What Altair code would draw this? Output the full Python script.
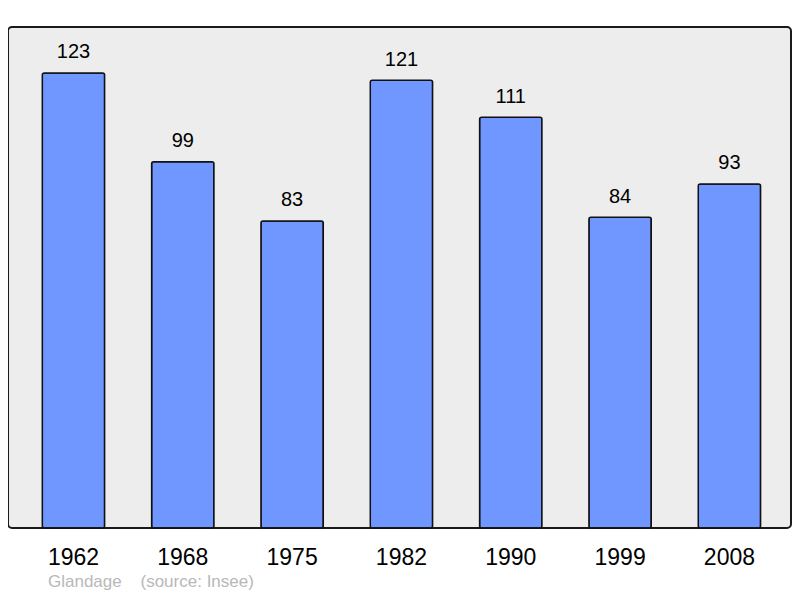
import altair as alt
import pandas as pd

years = ["1962", "1968", "1975", "1982", "1990", "1999", "2008"]
population = [123, 99, 83, 121, 111, 84, 93]
commune = "Glandage"
source = "(source: Insee)"

df = pd.DataFrame({"year": years, "pop": population})

FONT = "Liberation Sans"

x = alt.X(
    "year:N",
    sort=years,
    title=None,
    scale=alt.Scale(paddingInner=0.43, paddingOuter=0.296, align=0.53),
    axis=alt.Axis(
        ticks=False,
        tickSize=0,
        domain=False,
        grid=False,
        labelAngle=0,
        labelFont=FONT,
        labelFontSize=23,
        labelColor="#000000",
        labelBaseline="alphabetic",
        labelPadding=36,
    ),
)
y = alt.Y("pop:Q", title=None, axis=None, scale=alt.Scale(domain=[0, 135.4], nice=False))

bars = alt.Chart(df).mark_bar(
    color="#7096ff", stroke="#111111", strokeWidth=1.5, cornerRadius=2
).encode(x=x, y=y)

labels = alt.Chart(df).mark_text(
    font=FONT, fontSize=20, color="#000000", baseline="alphabetic", dy=-14.5
).encode(x=x, y=y, text="pop:Q")

foot1 = alt.Chart(pd.DataFrame({"t": [commune]})).mark_text(
    font=FONT, fontSize=17, color="#b8b8b8", align="left", baseline="alphabetic"
).encode(x=alt.value(40), y=alt.value(560), text="t:N")

foot2 = alt.Chart(pd.DataFrame({"t": [source]})).mark_text(
    font=FONT, fontSize=17, color="#b8b8b8", align="left", baseline="alphabetic"
).encode(x=alt.value(132.5), y=alt.value(560), text="t:N")

chart = (
    alt.layer(bars, labels, foot1, foot2)
    .properties(
        width=783,
        height=501,
        padding={"left": 0, "top": 19, "right": 1, "bottom": 62},
        autosize=alt.AutoSizeParams(type="none"),
        background="#ffffff",
    )
    .configure_view(fill="#ededed", stroke="#1a1a1a", strokeWidth=2, cornerRadius=4)
)

chart.save("out.html", embed_options={"renderer": "svg", "actions": False})
